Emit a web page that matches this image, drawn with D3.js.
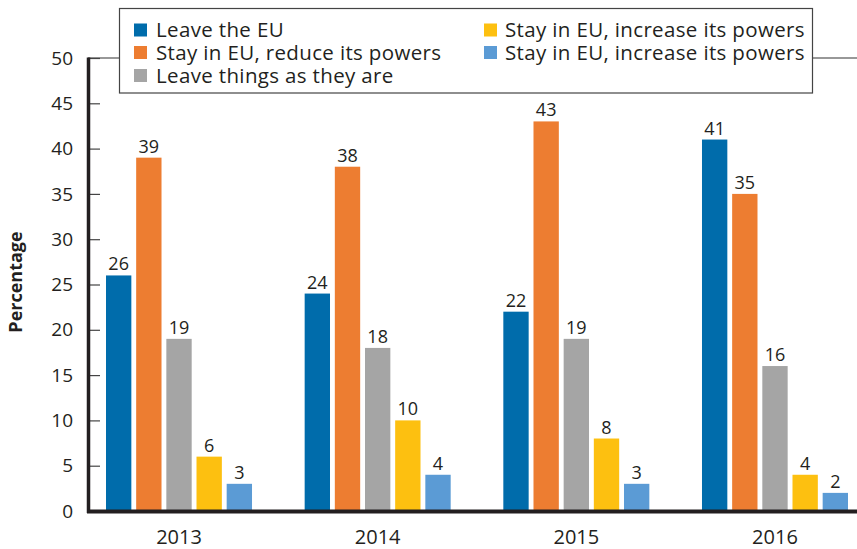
<!DOCTYPE html>
<html><head><meta charset="utf-8">
<script src="https://cdn.jsdelivr.net/npm/d3@7"></script>
<style>body{margin:0;background:#fff}svg{display:block;font-family:"Open Sans",sans-serif}</style>
</head><body><svg id="c" width="857" height="549"></svg>
<script>
const years = ["2013","2014","2015","2016"];
const seriesNames = ["Leave the EU","Stay in EU, reduce its powers","Leave things as they are","Stay in EU, increase its powers","Stay in EU, increase its powers"];
const leaveEU = [26,24,22,41];
const reducePowers = [39,38,43,35];
const asTheyAre = [19,18,19,16];
const increasePowersA = [6,10,8,4];
const increasePowersB = [3,4,3,2];
const yTicks = [0,5,10,15,20,25,30,35,40,45,50];
const colors = ["#006CAB","#ED7D31","#A5A5A5","#FDC010","#5B9BD5"];
const allSeries = [leaveEU,reducePowers,asTheyAre,increasePowersA,increasePowersB];

const svg = d3.select("#c");
const txt = "#231F20";
const x0 = d3.scaleBand().domain(years).range([88,866]).paddingInner(0.265).paddingOuter(0.0906);
const x1 = d3.scaleBand().domain(d3.range(5)).range([0,x0.bandwidth()]).paddingInner(0.16);
const y = d3.scaleLinear().domain([0,50]).range([511,58]);

// top border line
svg.append("line").attr("x1",88).attr("x2",857).attr("y1",y(50)).attr("y2",y(50)).attr("stroke","#333").attr("stroke-width",1.2);

// bars
years.forEach((yr,gi)=>{
  const g = svg.append("g").attr("transform",`translate(${x0(yr)},0)`);
  allSeries.forEach((s,si)=>{
    g.append("rect").attr("x",x1(si)).attr("y",y(s[gi])).attr("width",x1.bandwidth()).attr("height",y(0)-y(s[gi])).attr("fill",colors[si]);
    g.append("text").attr("x",x1(si)+x1.bandwidth()/2).attr("y",y(s[gi])-5).attr("text-anchor","middle")
      .attr("font-size",18).attr("fill",txt).text(s[gi]);
  });
});

// y axis
const ya = svg.append("g").attr("transform","translate(88,0)").call(d3.axisRight(y).tickValues(yTicks).tickSize(12).tickFormat(""));
ya.select(".domain").remove();
ya.selectAll(".tick line").attr("stroke","#444").attr("stroke-width",1.2);
yTicks.forEach(t=>{
  svg.append("text").attr("x",73).attr("y",y(t)).attr("dy","0.35em").attr("text-anchor","end").attr("font-size",19).attr("fill",txt).text(t);
});
svg.append("line").attr("x1",88.5).attr("x2",88.5).attr("y1",y(50)-0.6).attr("y2",513).attr("stroke","#231F20").attr("stroke-width",3.5);
// x axis
const xa = svg.append("g").attr("transform","translate(0,511.5)").call(d3.axisBottom(x0).tickSize(0).tickPadding(0).tickFormat(""));
xa.select(".domain").remove();
svg.append("line").attr("x1",87).attr("x2",857).attr("y1",511.5).attr("y2",511.5).attr("stroke","#231F20").attr("stroke-width",4);
years.forEach(yr=>{
  svg.append("text").attr("x",x0(yr)+x0.bandwidth()/2).attr("y",543.5).attr("text-anchor","middle").attr("font-size",20).attr("fill",txt).text(yr);
});

svg.append("text").attr("transform","translate(22,282) rotate(-90)").attr("text-anchor","middle").attr("font-size",18).attr("font-weight","bold").attr("fill",txt).text("Percentage");

// legend
const lg = svg.append("g");
lg.append("rect").attr("x",119.5).attr("y",8.5).attr("width",693).attr("height",84.5).attr("fill","#fff").attr("stroke","#444").attr("stroke-width",1.2);
const legPos = [[134,30],[134,52.5],[134,75.5],[484,30],[484,52.5]];
seriesNames.forEach((n,i)=>{
  const [lx,ly]=legPos[i];
  lg.append("rect").attr("x",lx).attr("y",ly-6.5).attr("width",13).attr("height",13).attr("fill",colors[i]);
  lg.append("text").attr("x",lx+(i<3?22:21)).attr("y",ly).attr("dy","0.35em").attr("font-size",20.5).attr("letter-spacing","0.35px").attr("fill",txt).text(n);
});
</script></body></html>
